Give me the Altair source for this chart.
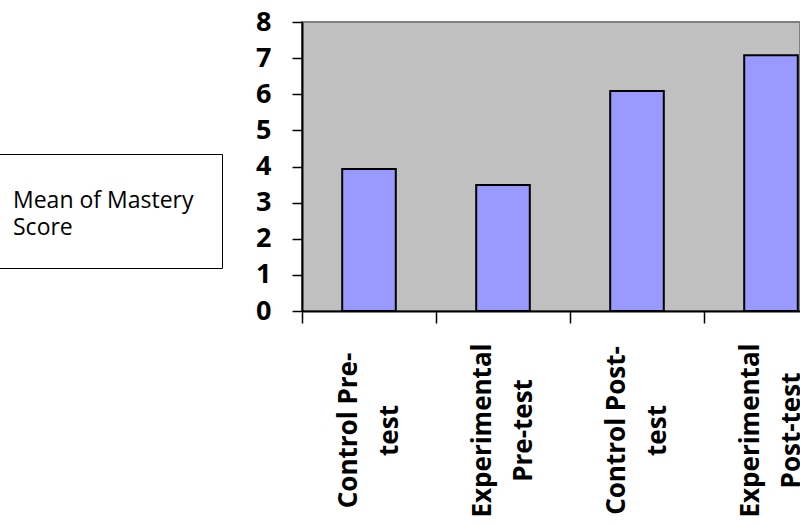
import altair as alt
import pandas as pd

categories = ["Control Pre-test", "Experimental Pre-test", "Control Post-test", "Experimental Post-test"]
label_line1 = ["Control Pre-", "Experimental", "Control Post-", "Experimental"]
label_line2 = ["test", "Pre-test", "test", "Post-test"]
means = [3.93, 3.49, 6.09, 7.08]
series_name = "Mean of Mastery Score"
legend_lines = ["Mean of Mastery", "Score"]
y_ticks = [0, 1, 2, 3, 4, 5, 6, 7, 8]

df = pd.DataFrame({"category": categories, "mean": means, "series": [series_name] * len(categories)})

label_expr = ""
for c, a, b in zip(categories, label_line1, label_line2):
    label_expr += f"datum.label == '{c}' ? ['{a}', '{b}'] : "
label_expr += "datum.label"

chart = alt.Chart(df).mark_bar(stroke="black", strokeWidth=2,
                               width=alt.RelativeBandSize(0.4)).encode(
    x=alt.X("category:N", sort=None,
            scale=alt.Scale(range=[0, 536], paddingInner=0, paddingOuter=0),
            axis=alt.Axis(title=None, labelExpr=label_expr, labelAngle=-90,
                          labelAlign="center", labelBaseline="middle",
                          labelFont="Open Sans", labelFontWeight="bold", labelFontSize=26,
                          labelColor="black", labelLineHeight=41, labelOffset=-21,
                          labelPadding=107,
                          tickBand="extent", tickSize=12, tickColor="black", tickWidth=1.5,
                          domainColor="black", domainWidth=2, labelLimit=400, grid=False)),
    y=alt.Y("mean:Q", scale=alt.Scale(domain=[0, 8], nice=False),
            axis=alt.Axis(title=None, values=y_ticks, format="d",
                          labelFont="Open Sans", labelFontWeight="bold", labelFontSize=27,
                          labelColor="black", labelPadding=21,
                          tickSize=10, tickColor="black", tickWidth=1.5,
                          domainColor="black", domainWidth=2, grid=False)),
    color=alt.Color("series:N", scale=alt.Scale(range=["#9999FF"]),
                    legend=alt.Legend(title=legend_lines, orient="none", legendX=-317, legendY=132,
                                      padding=28, strokeColor="black", fillColor="white",
                                      titleOrient="bottom",
                                      titleFont="Open Sans", titleFontSize=23, titleFontWeight="normal",
                                      titleColor="black", titleLineHeight=27, titlePadding=7,
                                      titleAnchor="start", titleLimit=400,
                                      symbolSize=0, symbolOpacity=0, symbolStrokeWidth=0,
                                      labelExpr="''", labelFontSize=1, labelOffset=0)),
).properties(
    width=498, height=289,
    autosize=alt.AutoSizeParams(type="none"),
    padding={"left": 302, "top": 22, "right": 0, "bottom": 214},
    background="white",
).configure_view(
    fill="#C0C0C0", stroke="#808080", strokeWidth=2
)

chart.save("out.html", embed_options={"renderer": "svg", "actions": False})
